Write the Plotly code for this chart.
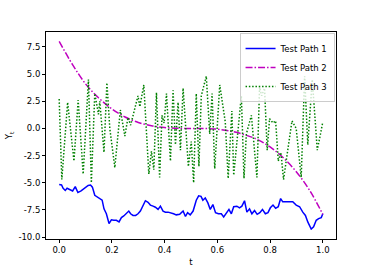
import plotly.graph_objects as go

# Test Path 1 (blue, solid)
t1 = [0.000, 0.009, 0.015, 0.023, 0.030, 0.040, 0.051, 0.061, 0.071, 0.083, 0.097, 0.110, 0.119, 0.126,
      0.135, 0.144, 0.154, 0.163, 0.170, 0.179, 0.189, 0.198, 0.207, 0.217, 0.227, 0.236, 0.245, 0.255,
      0.264, 0.271, 0.280, 0.290, 0.299, 0.308, 0.318, 0.327, 0.337, 0.346, 0.356, 0.365, 0.375, 0.384,
      0.394, 0.403, 0.413, 0.426, 0.434, 0.444, 0.457, 0.470, 0.479, 0.487, 0.497, 0.508, 0.520, 0.529,
      0.538, 0.545, 0.554, 0.564, 0.573, 0.583, 0.593, 0.604, 0.615, 0.624, 0.634, 0.644, 0.653, 0.662,
      0.674, 0.684, 0.693, 0.703, 0.712, 0.722, 0.731, 0.741, 0.751, 0.761, 0.771, 0.782, 0.792, 0.801,
      0.811, 0.821, 0.831, 0.840, 0.848, 0.861, 0.874, 0.886, 0.899, 0.912, 0.924, 0.934, 0.943, 0.956,
      0.965, 0.975, 0.984, 0.994, 1.000]
y1 = [-5.15, -5.2, -5.5, -5.7, -5.5, -5.6, -5.75, -5.35, -5.9, -5.75, -5.5, -5.25, -5.2, -5.4,
      -6.15, -6.3, -6.45, -6.6, -7.4, -7.85, -8.75, -8.4, -8.45, -8.45, -8.6, -8.2, -8.05, -7.85,
      -7.6, -7.85, -8.0, -8.0, -7.85, -7.6, -7.05, -6.65, -6.8, -7.05, -7.15, -7.25, -7.45, -7.15,
      -7.6, -7.7, -7.7, -7.75, -7.85, -7.95, -7.9, -7.6, -8.1, -7.75, -7.95, -7.6, -6.6, -6.2,
      -6.25, -6.6, -6.4, -6.85, -7.45, -7.0, -7.75, -7.85, -7.85, -8.15, -7.85, -7.45, -7.85, -7.2,
      -7.15, -7.3, -7.15, -6.65, -7.7, -7.4, -7.85, -7.55, -7.9, -7.75, -7.45, -7.85, -7.75, -7.3,
      -7.05, -7.35, -7.2, -6.45, -6.75, -6.75, -6.8, -6.75, -7.05, -7.2, -7.7, -8.0, -8.6, -9.25,
      -9.05, -8.45, -8.3, -8.2, -7.85]

# Test Path 2 (magenta, dash-dot)
t2 = [0.0, 0.05, 0.1, 0.15, 0.2, 0.25, 0.3, 0.35, 0.4, 0.45, 0.5, 0.55, 0.6, 0.65, 0.7, 0.75,
      0.8, 0.85, 0.9, 0.95, 1.0]
y2 = [8.0, 5.9, 4.1, 2.8, 1.8, 1.05, 0.55, 0.25, 0.08, 0.01, 0.0, -0.01, -0.07, -0.25, -0.55, -1.0,
      -1.7, -2.7, -4.0, -5.7, -7.9]

# Test Path 3 (green, dotted)
t3 = [0.000, 0.010, 0.032, 0.056, 0.072, 0.091, 0.111, 0.122, 0.135, 0.149, 0.154, 0.170, 0.181,
      0.192, 0.211, 0.232, 0.249, 0.261, 0.271, 0.280, 0.299, 0.306, 0.321, 0.340, 0.350, 0.359,
      0.369, 0.381, 0.390, 0.398, 0.407, 0.422, 0.432, 0.441, 0.451, 0.460, 0.470, 0.490, 0.501,
      0.510, 0.520, 0.530, 0.539, 0.558, 0.571, 0.580, 0.590, 0.609, 0.630, 0.641, 0.655, 0.662,
      0.672, 0.691, 0.701, 0.710, 0.729, 0.750, 0.760, 0.768, 0.779, 0.789, 0.798, 0.811, 0.821,
      0.831, 0.841, 0.851, 0.867, 0.883, 0.899, 0.918, 0.931, 0.943, 0.960, 0.979, 1.000]
y3 = [2.7, -4.7, 2.4, -3.0, 2.6, -4.2, 4.5, -5.0, 3.2, 1.3, 2.5, -2.2, 4.2,
      0.0, -3.6, 1.7, -0.7, 1.0, 0.3, 1.2, 3.0, 2.0, 4.0, -4.2, -2.1, -3.8,
      3.3, -4.5, 1.2, 0.5, 3.2, -3.0, 3.5, -1.5, 2.4, -2.0, 3.7, -3.5, -1.2,
      -5.0, 3.2, -3.5, 3.0, 4.8, -0.5, 3.2, -3.7, 4.0, 0.6, -4.6, 1.6, -4.3,
      -2.0, 3.0, -4.6, -0.5, 1.2, -4.5, 3.8, 3.0, 3.7, -2.0, 0.9, 0.5, 0.7,
      -3.0, -2.2, -4.7, -2.0, 0.7, 0.0, -4.5, 4.8, -1.5, 4.5, -2.0, 0.6]

x_ticks = [0.0, 0.2, 0.4, 0.6, 0.8, 1.0]
y_ticks = [-10.0, -7.5, -5.0, -2.5, 0.0, 2.5, 5.0, 7.5]

fig = go.Figure()
fig.add_trace(go.Scatter(x=t1, y=y1, mode="lines", name="Test Path 1",
                         line=dict(color="#0000ff", width=1.5)))
fig.add_trace(go.Scatter(x=t2, y=y2, mode="lines", name="Test Path 2", line_shape="spline",
                         line=dict(color="#bf00bf", width=1.5, dash="7px,2px,1.5px,2px")))
fig.add_trace(go.Scatter(x=t3, y=y3, mode="lines", name="Test Path 3",
                         line=dict(color="#008000", width=1.5, dash="1.5px,1.8px")))

font = dict(family="DejaVu Sans", size=8.5, color="#000000")
axis_common = dict(showgrid=False, zeroline=False, showline=True, linecolor="#000000",
                   linewidth=0.8, mirror=True, ticks="outside", ticklen=3, tickwidth=0.8,
                   tickcolor="#000000", tickfont=font, automargin=False)
fig.update_layout(
    width=374, height=273,
    margin=dict(l=46, r=38, t=32, b=34),
    paper_bgcolor="white", plot_bgcolor="white",
    font=font,
    showlegend=True,
    legend=dict(x=0.995, y=0.995, xanchor="right", yanchor="top",
                bgcolor="rgba(255,255,255,0.8)", bordercolor="#cccccc", borderwidth=1,
                font=dict(family="DejaVu Sans", size=8.5, color="#000000"),
                itemwidth=30, tracegroupgap=0),
    xaxis=dict(range=[-0.05, 1.05], tickvals=x_ticks, ticktext=[f"{v:.1f}" for v in x_ticks],
               title=dict(text="t", font=font, standoff=4), **axis_common),
    yaxis=dict(range=[-10.17, 8.87], tickvals=y_ticks, ticktext=[f"{v:.1f}" for v in y_ticks],
               title=dict(text="Y<sub>t</sub>", font=font, standoff=4), **axis_common),
)

fig.write_html("out.html", config={"displayModeBar": False},
               post_script="document.body.style.margin='0px';")
